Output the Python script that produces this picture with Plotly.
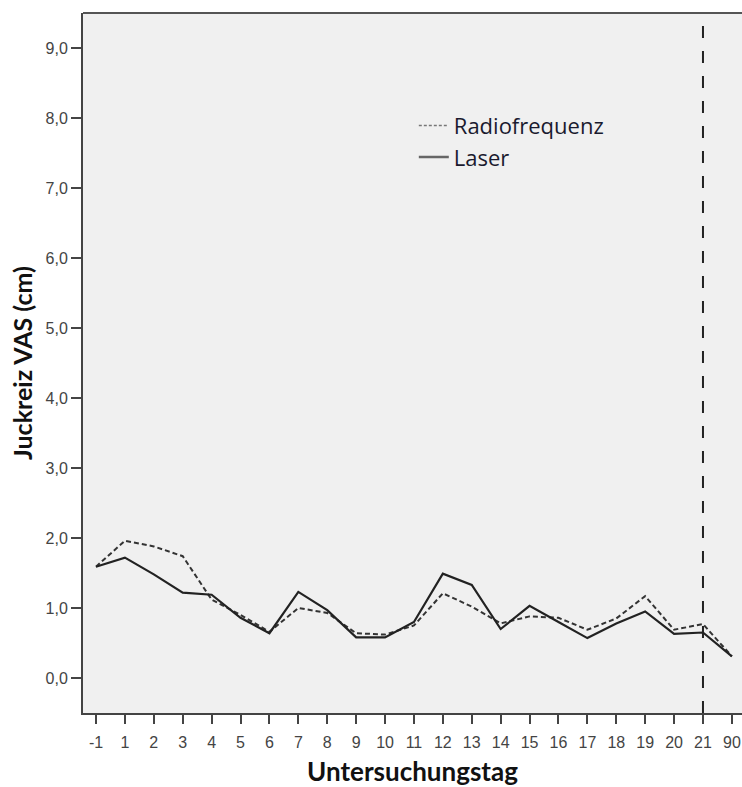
import plotly.graph_objects as go

# Examination days (categorical x axis) and mean itch scores (VAS, cm)
days = ["-1", "1", "2", "3", "4", "5", "6", "7", "8", "9", "10", "11",
        "12", "13", "14", "15", "16", "17", "18", "19", "20", "21", "90"]
radiofrequenz = [1.59, 1.96, 1.88, 1.74, 1.12, 0.90, 0.66, 1.00, 0.93, 0.64, 0.62, 0.75,
                 1.21, 1.02, 0.78, 0.88, 0.86, 0.69, 0.85, 1.17, 0.69, 0.77, 0.31]
laser = [1.59, 1.72, 1.48, 1.22, 1.19, 0.86, 0.64, 1.23, 0.97, 0.58, 0.58, 0.80,
         1.49, 1.33, 0.70, 1.03, 0.80, 0.57, 0.78, 0.95, 0.63, 0.65, 0.31]
y_ticks = [0, 1, 2, 3, 4, 5, 6, 7, 8, 9]
y_tick_labels = ["0,0", "1,0", "2,0", "3,0", "4,0", "5,0", "6,0", "7,0", "8,0", "9,0"]
marker_day = "21"

x_pos = list(range(len(days)))
marker_idx = days.index(marker_day)

fig = go.Figure()
fig.add_trace(go.Scatter(
    x=x_pos, y=radiofrequenz, mode="lines", name="Radiofrequenz", showlegend=False,
    line=dict(color="#333333", width=2, dash="5px,3px"),
))
fig.add_trace(go.Scatter(
    x=x_pos, y=laser, mode="lines", name="Laser", showlegend=False,
    line=dict(color="#222222", width=2.2),
))
# legend entries drawn with lighter gray samples
fig.add_trace(go.Scatter(
    x=[None], y=[None], mode="lines", name="Radiofrequenz",
    line=dict(color="#777777", width=1.6, dash="3px,2px"),
))
fig.add_trace(go.Scatter(
    x=[None], y=[None], mode="lines", name="Laser",
    line=dict(color="#666666", width=2.5),
))

# vertical reference line at day 21
fig.add_shape(type="line", xref="x", yref="paper", x0=marker_idx, x1=marker_idx,
              y0=0, y1=1, line=dict(color="#222222", width=2, dash="12px,13px"))
# top frame line
fig.add_shape(type="line", xref="paper", yref="paper", x0=0, x1=1, y0=1, y1=1,
              line=dict(color="#555555", width=2))

fig.update_layout(
    width=742, height=787,
    margin=dict(l=83, r=0, t=13, b=74),
    paper_bgcolor="white",
    plot_bgcolor="#f0f0f0",
    showlegend=True,
    legend=dict(
        x=0.502, y=0.869, xanchor="left", yanchor="top",
        bgcolor="rgba(0,0,0,0)",
        font=dict(family="Open Sans", size=22, color="#1a1a2e"),
        itemwidth=30, tracegroupgap=0,
    ),
    xaxis=dict(
        range=[-0.45, 22.35],
        tickvals=x_pos, ticktext=days,
        showgrid=False, zeroline=False,
        showline=True, linecolor="#444444", linewidth=2,
        ticks="outside", ticklen=9, tickwidth=2, tickcolor="#444444",
        ticklabelstandoff=5,
        tickfont=dict(family="Liberation Sans", size=16, color="#444444"),
        title=dict(text="<b>Untersuchungstag</b>",
                   font=dict(family="Lato", size=26, color="#111111"), standoff=13),
    ),
    yaxis=dict(
        range=[-0.5, 9.5],
        tickvals=y_ticks, ticktext=y_tick_labels,
        showgrid=False, zeroline=False,
        showline=True, linecolor="#444444", linewidth=2,
        ticks="outside", ticklen=10, tickwidth=2, tickcolor="#444444",
        tickfont=dict(family="Liberation Sans", size=16, color="#444444"),
        title=dict(text="<b>Juckreiz VAS (cm)</b>",
                   font=dict(family="Lato", size=25, color="#111111"), standoff=6),
    ),
)

fig.write_html("out.html")
